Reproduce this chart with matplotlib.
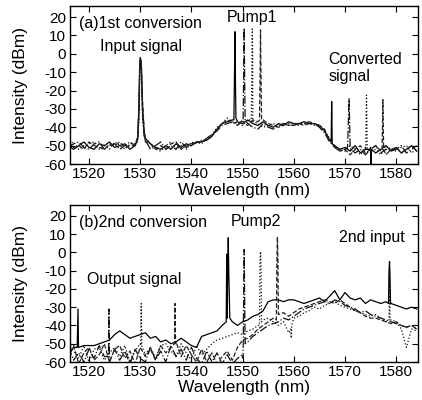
import matplotlib
matplotlib.use("Agg")
import matplotlib.pyplot as plt
import numpy as np

plt.rcParams['font.family'] = ['Liberation Sans', 'DejaVu Sans']
plt.rcParams['axes.unicode_minus'] = False

# common wavelength grid, 1 nm steps (1516 .. 1584)
grid = np.arange(1516, 1585)

# ---- panel (a): 1st conversion ----
a1_db = [-50, -52, -50, -48, -51, -52, -49, -50, -48, -51,
         -50, -49, -52, -50,
         -2, -46, -49, -51, -52, -50, -52, -49, -51, -49,
         -50, -48, -48, -47, -45, -41, -38, -37, -36, -37,
         -38, -36, -38, -39, -37, -39, -40, -38, -39, -37,
         -38, -38, -37, -38, -38, -39, -42, -47, -50, -52,
         -51, -53, -50, -54, -52, -51, -54, -52, -50, -53,
         -51, -54, -52, -50, -53]
a2_db = [-51, -49, -48, -51, -52, -49, -48, -52, -50, -49,
         -52, -50, -48, -50,
         -4, -47, -52, -50, -48, -52, -50, -52, -48, -51,
         -50, -48, -49, -46, -44, -42, -39, -38, -37, -39,
         -36, -38, -40, -41, -38, -40, -41, -39, -38, -39,
         -39, -38, -38, -37, -38, -40, -43, -48, -51, -53,
         -52, -50, -54, -52, -55, -52, -50, -54, -52, -53,
         -52, -50, -54, -52, -50]
a3_db = [-49, -48, -52, -50, -49, -48, -52, -50, -52, -48,
         -50, -52, -49, -49,
         -5, -47, -49, -52, -53, -50, -48, -52, -50, -52,
         -48, -49, -47, -47, -45, -40, -38, -35, -37, -38,
         -39, -36, -37, -38, -40, -39, -38, -40, -39, -38,
         -38, -39, -38, -38, -39, -39, -42, -46, -51, -52,
         -53, -50, -52, -55, -51, -53, -52, -55, -50, -52,
         -53, -51, -50, -54, -52]
a4_db = [-48, -51, -50, -52, -48, -50, -51, -52, -49, -50,
         -48, -51, -50, -50,
         -3, -48, -49, -52, -50, -52, -49, -48, -52, -50,
         -49, -48, -48, -46, -44, -41, -38, -36, -38, -37,
         -38, -39, -36, -37, -36, -38, -39, -40, -38, -39,
         -38, -38, -39, -38, -38, -39, -41, -47, -50, -53,
         -52, -55, -52, -50, -54, -52, -50, -53, -55, -52,
         -51, -54, -52, -50, -53]

# peaks: input signal, pump, converted signal (and a noise dip)
a1_pk_wl = [1529.5, 1529.75, 1529.9, 1530.2, 1530.45, 1530.75,
            1548.3, 1548.45, 1548.5, 1548.55, 1548.7,
            1567.3, 1567.4, 1567.5, 1574.9, 1575.05, 1575.15]
a1_pk_db = [-46, -30, -6, -4, -28, -42,
            -36, -5, 12, -3, -35,
            -48, -26, -49, -52, -61, -52]
a2_pk_wl = [1529.5, 1529.75, 1529.9, 1530.2, 1530.45, 1530.75,
            1550.1, 1550.25, 1550.3, 1550.35, 1550.5,
            1570.5, 1570.8, 1571.1]
a2_pk_db = [-47, -34, -10, -6, -32, -44,
            -37, -2, 14, 0, -36,
            -51, -24.5, -52]
a3_pk_wl = [1529.5, 1529.75, 1529.9, 1530.2, 1530.45, 1530.75,
            1551.7, 1551.85, 1551.9, 1551.95, 1552.1,
            1574.05, 1574.2, 1574.35]
a3_pk_db = [-48, -36, -14, -8, -34, -45,
            -36, 0, 13.5, -2, -37,
            -52, -22.5, -52]
a4_pk_wl = [1529.5, 1529.75, 1529.9, 1530.2, 1530.45, 1530.75,
            1553.3, 1553.45, 1553.5, 1553.55, 1553.7,
            1577.25, 1577.4, 1577.55]
a4_pk_db = [-45, -28, -8, -3, -25, -40,
            -36, -3, 13, -1, -36,
            -52, -25, -52]

# ---- panel (b): 2nd conversion ----
b1_db = [-55, -52, -52, -51, -51, -51, -50, -49, -48, -45,
         -43, -45, -47, -46, -45, -44, -47, -46, -49, -48,
         -50, -49, -47, -49, -51, -52, -46, -45, -44, -43,
         -40, -36, -38, -40, -38, -37, -35, -34, -32, -27,
         -26, -26, -27, -26, -26, -27, -28, -27, -26, -25,
         -27, -24, -21, -26, -22, -25, -26, -25, -28, -26,
         -27, -28, -27, -28, -29, -30, -31, -30, -31]
b2_db = [-52, -59, -55, -60, -53, -58, -51, -57, -60, -53,
         -59, -54, -61, -53, -58, -60, -52, -59, -54, -60,
         -51, -57, -53, -59, -52, -58, -61, -54, -60, -55,
         -61, -56, -61, -58, -56, -49, -46, -44, -42, -40,
         -39, -38, -36, -37, -35, -33, -31, -30, -29, -28,
         -27, -28, -26, -27, -29, -30, -31, -33, -32, -34,
         -35, -36, -37, -38, -39, -40, -41, -40, -42]
b3_db = [-50, -54, -58, -51, -60, -53, -52, -59, -55, -52,
         -57, -51, -60, -54, -50, -56, -52, -58, -51, -50,
         -54, -57, -50, -55, -59, -51, -56, -53, -50, -48,
         -47, -46, -45, -44, -45, -43, -42, -40, -37, -36,
         -38, -40, -38, -44, -36, -35, -33, -32, -30, -31,
         -29, -28, -27, -29, -30, -31, -32, -33, -34, -35,
         -34, -36, -38, -37, -38, -42, -52, -42, -43]
b4_db = [-58, -51, -61, -55, -52, -59, -56, -50, -60, -53,
         -51, -58, -54, -61, -52, -57, -53, -59, -51, -55,
         -52, -49, -57, -51, -56, -60, -53, -60, -55, -61,
         -57, -54, -59, -52, -48, -47, -45, -42, -40, -38,
         -36, -34, -33, -35, -33, -31, -30, -29, -28, -27,
         -26, -27, -28, -26, -28, -30, -32, -33, -35, -36,
         -36, -37, -38, -39, -38, -40, -41, -40, -42]

b1_pk_wl = [1517.7, 1517.85, 1517.95,
            1546.8, 1546.9, 1546.95, 1547.1, 1547.2, 1547.3, 1547.5,
            1578.5, 1578.6, 1578.7, 1578.8, 1578.9]
b1_pk_db = [-52, -31, -52,
            -38, -1, -30, -10, 8, -10, -36,
            -28, -10, -5, -15, -28]
b2_pk_wl = [1523.8, 1523.9, 1523.98, 1550.1, 1550.3, 1550.5]
b2_pk_db = [-57, -31, -57, -58, 1.5, -50]
b3_pk_wl = [1530.1, 1530.2, 1530.3,
            1553.3, 1553.4, 1553.5, 1553.6, 1553.7,
            1559.4, 1559.5, 1559.6,
            1578.6, 1578.7, 1578.8]
b3_pk_db = [-51, -28, -51,
            -40, -5, 0.5, -6, -38,
            -42, -47, -40,
            -37, -10, -37]
b4_pk_wl = [1536.7, 1536.8, 1536.9, 1556.6, 1556.7, 1556.8, 1556.9, 1557.05]
b4_pk_db = [-50, -28, -50, -37, -5, 8.5, -5, -34]

styles = ['-', '-.', ':', '--']
colors = ['black', '#111111', '#111111', '#222222']


def merge(base, pk_wl, pk_db):
    wl = np.concatenate([grid, pk_wl])
    db = np.concatenate([base, pk_db])
    order = np.argsort(wl, kind='stable')
    return wl[order], db[order]


def style_axes(ax):
    ax.set_xlim(1516.3, 1584.3)
    ax.set_ylim(-60, 26)
    ax.set_xticks(np.arange(1520, 1590, 10))
    ax.set_yticks(np.arange(-60, 30, 10))
    ax.tick_params(direction='in', top=True, right=True, length=4, width=0.8,
                   labelsize=11)
    ax.tick_params(axis='x', pad=2)
    ax.tick_params(axis='y', pad=3)
    for sp in ax.spines.values():
        sp.set_linewidth(1.0)
    ax.set_ylabel('Intensity (dBm)', fontsize=12.5)
    ax.set_xlabel('Wavelength (nm)', fontsize=12.5)
    ax.yaxis.set_label_coords(-0.122, 0.5)


fig = plt.figure(figsize=(4.22, 4.0), dpi=100)
ax1 = fig.add_axes([0.166, 0.59, 0.825, 0.395])
ax2 = fig.add_axes([0.166, 0.095, 0.825, 0.393])

traces_a = [(a1_db, a1_pk_wl, a1_pk_db), (a2_db, a2_pk_wl, a2_pk_db),
            (a3_db, a3_pk_wl, a3_pk_db), (a4_db, a4_pk_wl, a4_pk_db)]
traces_b = [(b1_db, b1_pk_wl, b1_pk_db), (b2_db, b2_pk_wl, b2_pk_db),
            (b3_db, b3_pk_wl, b3_pk_db), (b4_db, b4_pk_wl, b4_pk_db)]

for (base, pw, pd), ls, c in zip(traces_a, styles, colors):
    x, y = merge(base, pw, pd)
    ax1.plot(x, y, ls, color=c, lw=0.9)
for (base, pw, pd), ls, c in zip(traces_b, styles, colors):
    x, y = merge(base, pw, pd)
    ax2.plot(x, y, ls, color=c, lw=0.9)

style_axes(ax1)
style_axes(ax2)
ax1.xaxis.set_label_coords(0.5, -0.12)
ax2.xaxis.set_label_coords(0.5, -0.115)

fs = 11.5
ax1.text(1518, 16.7, '(a)1st conversion', fontsize=fs, va='center', ha='left')
ax1.text(1551.8, 19.5, 'Pump1', fontsize=fs, va='center', ha='center')
ax1.text(1530.2, 3.7, 'Input signal', fontsize=fs, va='center', ha='center')
ax1.text(1566.7, -7.7, 'Converted\nsignal', fontsize=fs, va='center', ha='left',
         linespacing=1.2)

ax2.text(1518, 16.2, '(b)2nd conversion', fontsize=fs, va='center', ha='left')
ax2.text(1552.6, 17, 'Pump2', fontsize=fs, va='center', ha='center')
ax2.text(1575.3, 8, '2nd input', fontsize=fs, va='center', ha='center')
ax2.text(1528.8, -15, 'Output signal', fontsize=fs, va='center', ha='center')

fig.savefig('out.png', dpi=100)
